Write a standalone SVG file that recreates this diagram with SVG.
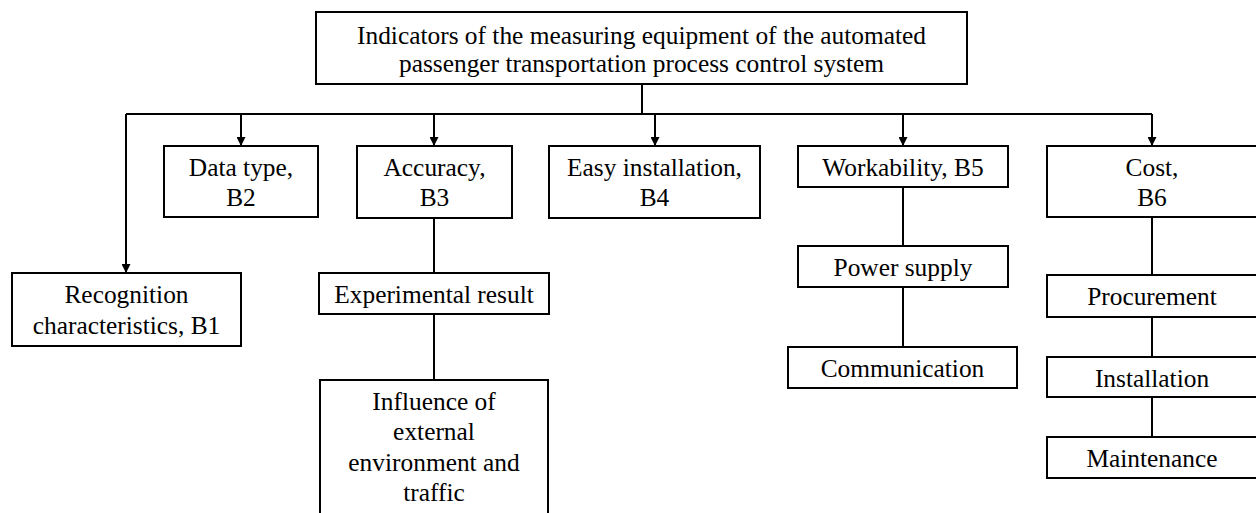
<svg xmlns="http://www.w3.org/2000/svg" width="1256" height="513" viewBox="0 0 1256 513">
<style>
.box{fill:#fff;stroke:#000;stroke-width:2}
.t{font-family:'Liberation Serif','Times New Roman',Times,serif;font-size:25.4px;fill:#000;text-anchor:middle}
.c{fill:none;stroke:#000;stroke-width:2}
</style>
<defs>
<marker id="ah" viewBox="0 0 10 10" refX="10" refY="5" markerWidth="9" markerHeight="9" markerUnits="userSpaceOnUse" orient="auto">
<path d="M0,0 L10,5 L0,10 Z" fill="#000"/>
</marker>
</defs>
<rect width="1256" height="513" fill="#fff"/>
<g id="connectors">
<path class="c" d="M642,84 V114"/>
<path class="c" d="M126,114 H1152"/>
<path class="c" d="M126,114 V273" marker-end="url(#ah)"/>
<path class="c" d="M241,114 V146" marker-end="url(#ah)"/>
<path class="c" d="M434,114 V146" marker-end="url(#ah)"/>
<path class="c" d="M655,114 V146" marker-end="url(#ah)"/>
<path class="c" d="M903,114 V146" marker-end="url(#ah)"/>
<path class="c" d="M1152,114 V146" marker-end="url(#ah)"/>
<path class="c" d="M434,218 V273"/>
<path class="c" d="M434,314 V380"/>
<path class="c" d="M903,187 V246"/>
<path class="c" d="M903,287 V347"/>
<path class="c" d="M1152,217 V275"/>
<path class="c" d="M1152,317 V357"/>
<path class="c" d="M1152,397 V437"/>
</g>
<g id="root">
<rect class="box" x="316" y="12" width="651" height="72"/>
<text class="t" x="641.5" y="44">Indicators of the measuring equipment of the automated</text>
<text class="t" x="641.5" y="72">passenger transportation process control system</text>
</g>
<g id="b1">
<rect class="box" x="12" y="273" width="229" height="73"/>
<text class="t" x="126.5" y="303">Recognition</text>
<text class="t" x="126.5" y="334">characteristics, B1</text>
</g>
<g id="b2">
<rect class="box" x="164" y="146" width="154" height="71"/>
<text class="t" x="241" y="176">Data type,</text>
<text class="t" x="241" y="206">B2</text>
</g>
<g id="b3">
<rect class="box" x="357" y="146" width="155" height="72"/>
<text class="t" x="434.5" y="176">Accuracy,</text>
<text class="t" x="434.5" y="206">B3</text>
</g>
<g id="b4">
<rect class="box" x="549" y="146" width="211" height="72"/>
<text class="t" x="654.5" y="176">Easy installation,</text>
<text class="t" x="654.5" y="206">B4</text>
</g>
<g id="b5">
<rect class="box" x="798" y="146" width="210" height="41"/>
<text class="t" x="903" y="176">Workability, B5</text>
</g>
<g id="b6">
<rect class="box" x="1047" y="146" width="210" height="71"/>
<text class="t" x="1152" y="176">Cost,</text>
<text class="t" x="1152" y="206">B6</text>
</g>
<g id="experimental">
<rect class="box" x="319" y="273" width="230" height="41"/>
<text class="t" x="434" y="303">Experimental result</text>
</g>
<g id="influence">
<rect class="box" x="320" y="380" width="228" height="140"/>
<text class="t" x="434" y="410">Influence of</text>
<text class="t" x="434" y="440">external</text>
<text class="t" x="434" y="471">environment and</text>
<text class="t" x="434" y="501">traffic</text>
</g>
<g id="power">
<rect class="box" x="798" y="246" width="210" height="41"/>
<text class="t" x="903" y="276">Power supply</text>
</g>
<g id="communication">
<rect class="box" x="788" y="347" width="229" height="41"/>
<text class="t" x="902.5" y="377">Communication</text>
</g>
<g id="procurement">
<rect class="box" x="1047" y="275" width="210" height="42"/>
<text class="t" x="1152" y="305">Procurement</text>
</g>
<g id="installation">
<rect class="box" x="1047" y="357" width="210" height="40"/>
<text class="t" x="1152" y="387">Installation</text>
</g>
<g id="maintenance">
<rect class="box" x="1047" y="437" width="210" height="41"/>
<text class="t" x="1152" y="467">Maintenance</text>
</g>
</svg>
